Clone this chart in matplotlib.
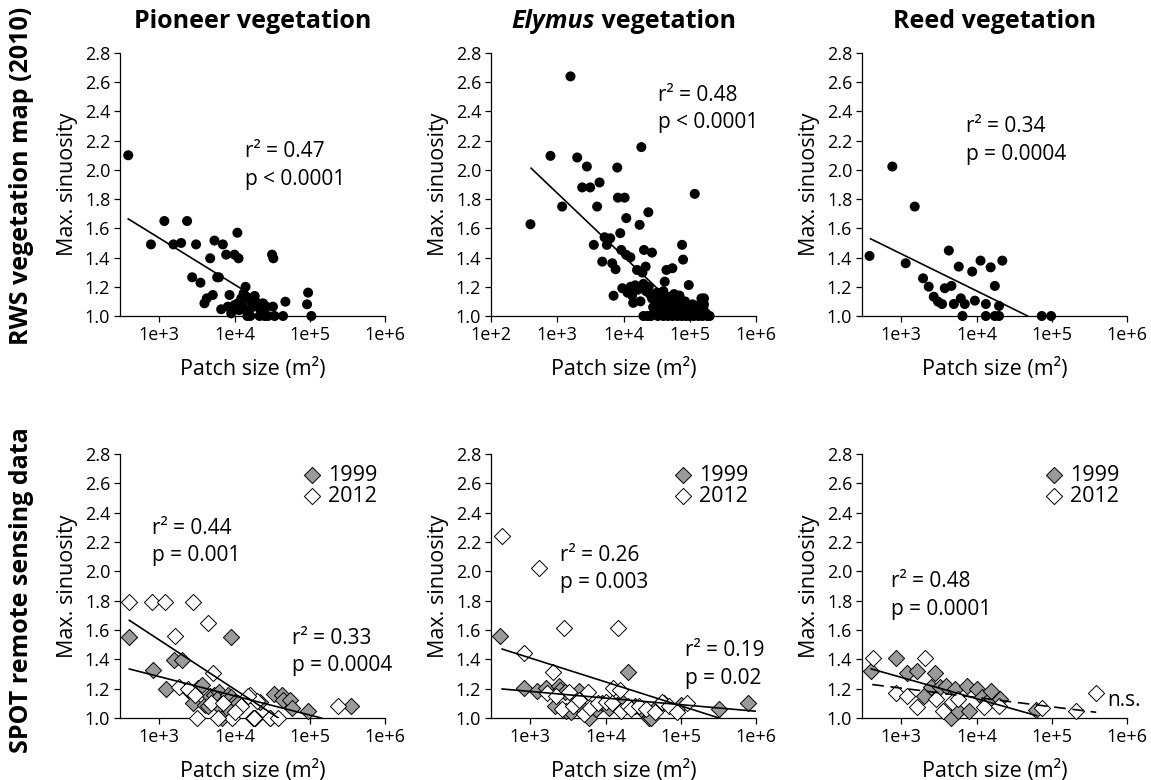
import matplotlib

matplotlib.use("Agg")
import matplotlib.pyplot as plt
import numpy as np
from matplotlib.offsetbox import AnnotationBbox, HPacker, TextArea

plt.rcParams["font.family"] = ["Open Sans", "DejaVu Sans"]

# --- RWS vegetation map (2010) -------------------------------------------
pioneer_rws_x = [386, 774, 1166, 2340, 1540, 1950, 3080, 2730, 3520, 3980,
                 4280, 5140, 4740, 5410, 6990, 7740, 10000, 11300, 10900, 5870,
                 6180, 6640, 8570, 8150, 9030, 10000, 11070, 14000, 13200, 14300,
                 12300, 12900, 16700, 18500, 14800, 16200, 20500, 23900, 21500, 26400,
                 32400, 31500, 32800, 21500, 25100, 27800, 34100, 44100, 47400, 95000,
                 92000, 105000, 17000, 19000, 11500, 13500]
pioneer_rws_y = [2.10, 1.49, 1.65, 1.65, 1.49, 1.50, 1.49, 1.265, 1.228, 1.087,
                 1.121, 1.144, 1.395, 1.516, 1.49, 1.42, 1.42, 1.395, 1.57, 1.265,
                 1.265, 1.046, 1.144, 1.064, 1.018, 1.075, 1.087, 1.20, 1.155, 1.132,
                 1.121, 1.087, 1.11, 1.137, 1.0, 1.0, 1.075, 1.087, 1.052, 1.064,
                 1.064, 1.42, 1.395, 1.0, 1.0, 1.0, 1.0, 1.0, 1.098, 1.16,
                 1.08, 1.0, 1.06, 1.10, 1.04, 1.05]

elymus_rws_x = [394, 790, 1186, 1585, 2000, 2800, 2380, 3140, 4350, 4000,
                3560, 4780, 5180, 6300, 5610, 6760, 7590, 7080, 8050, 8230,
                10400, 8930, 11000, 9270, 11000, 12700, 17500, 18600, 23700, 20400,
                26900, 21600, 16000, 19300, 44500, 54700, 41900, 76600, 79300, 96600,
                119000, 164000, 164000, 200000,
                9600, 11500, 12800, 13500, 15000, 16500, 18000, 14000, 20000, 22000,
                24000, 25000, 27000, 30000, 32000, 35000, 38000, 40000, 45000, 48000,
                52000, 58000, 62000, 70000, 75000, 85000, 90000, 110000, 130000, 150000,
                140000,
                20000, 23000, 26000, 29000, 33000, 36000, 40000, 43000, 47000, 50000,
                55000, 60000, 65000, 70000, 76000, 82000, 88000, 95000, 100000, 108000,
                115000, 125000, 135000, 145000, 155000, 175000, 185000, 28000, 31000, 38000,
                46000, 54000, 66000, 72000, 80000, 120000, 160000]
elymus_rws_y = [1.628, 2.096, 1.749, 2.64, 2.085, 2.023, 1.88, 1.88, 1.914, 1.749,
                1.487, 1.372, 1.539, 1.532, 1.487, 1.361, 1.32, 1.139, 2.016, 1.81,
                1.81, 1.567, 1.67, 1.452, 1.418, 1.402, 1.624, 2.156, 1.71, 1.452,
                1.434, 1.338, 1.315, 1.297, 1.315, 1.327, 1.235, 1.487, 1.386, 1.212,
                1.836, 1.121, 1.08, 1.0,
                1.19, 1.16, 1.20, 1.14, 1.21, 1.18, 1.10, 1.09, 1.22, 1.17,
                1.20, 1.15, 1.12, 1.10, 1.16, 1.14, 1.12, 1.17, 1.08, 1.13,
                1.11, 1.15, 1.09, 1.14, 1.07, 1.10, 1.06, 1.08, 1.07, 1.12,
                1.04,
                1.0, 1.0, 1.0, 1.02, 1.0, 1.03, 1.0, 1.05, 1.0, 1.02,
                1.0, 1.04, 1.0, 1.02, 1.0, 1.05, 1.0, 1.02, 1.0, 1.03,
                1.0, 1.02, 1.0, 1.05, 1.0, 1.02, 1.0, 1.06, 1.04, 1.06,
                1.07, 1.05, 1.07, 1.05, 1.08, 1.05, 1.06]

reed_rws_x = [378, 759, 1142, 1506, 1944, 2312, 2700, 3080, 3480, 3780,
              4640, 4280, 4990, 5800, 6180, 6980, 6500, 8750, 9500, 11300,
              13300, 13300, 15400, 17500, 17500, 19900, 19900, 22000, 73600, 98000]
reed_rws_y = [1.411, 2.023, 1.361, 1.749, 1.258, 1.201, 1.132, 1.098, 1.082, 1.19,
              1.206, 1.448, 1.082, 1.338, 1.121, 1.082, 1.0, 1.304, 1.105, 1.379,
              1.082, 1.0, 1.333, 1.206, 1.0, 1.0, 1.069, 1.379, 1.0, 1.0]

# --- SPOT remote sensing, 1999 (grey) and 2012 (white) --------------------
pioneer_99_x = [399, 832, 1230, 1585, 1985, 2430, 2830, 3240, 3650, 4050,
                4480, 4710, 5330, 6280, 5780, 6530, 6730, 7500, 8100, 8900,
                10000, 11000, 8700, 8950, 17400, 18600, 21800, 29500, 33900, 42300,
                44500, 54600, 57500, 95500, 353000]
pioneer_99_y = [1.55, 1.325, 1.198, 1.398, 1.398, 1.193, 1.102, 1.205, 1.227, 1.09,
                1.084, 1.15, 1.16, 1.175, 1.13, 1.068, 1.0, 1.12, 1.155, 1.14,
                1.11, 1.10, 1.05, 1.55, 1.0, 1.0, 1.107, 1.0, 1.166, 1.159,
                1.125, 1.125, 1.068, 1.045, 1.08]
pioneer_12_x = [399, 807, 1190, 2780, 4470, 1620, 5220, 1845, 2400, 3000,
                3130, 9120, 18400, 29700, 16000, 20100, 4800, 7000, 12000, 15000,
                38000, 235000, 6000, 10000]
pioneer_12_y = [1.79, 1.79, 1.79, 1.79, 1.648, 1.557, 1.307, 1.211, 1.20, 1.16,
                1.0, 1.0, 1.0, 1.0, 1.16, 1.113, 1.10, 1.10, 1.08, 1.15,
                1.0, 1.079, 1.0, 1.04]

elymus_99_x = [401, 817, 1225, 1630, 2370, 2500, 4370, 2900, 2100, 3000,
               3500, 4000, 5000, 6000, 7500, 9000, 11000, 14000, 19600, 17000,
               25000, 30000, 38000, 40000, 50000, 60000, 100000, 327000, 775000]
elymus_99_y = [1.556, 1.204, 1.186, 1.204, 1.215, 1.193, 1.186, 1.175, 1.08, 1.05,
               1.04, 1.10, 1.06, 1.0, 1.06, 1.10, 1.07, 1.09, 1.311, 1.10,
               1.08, 1.06, 1.0, 1.0, 1.08, 1.10, 1.09, 1.064, 1.102]
elymus_12_x = [422, 1290, 2840, 14700, 817, 2030, 1660, 3310, 5900, 12600,
               15500, 2200, 2600, 3700, 4500, 5200, 6300, 8000, 10000, 12000,
               16000, 20000, 22000, 28000, 35000, 45000, 56000, 70000, 90000, 120000]
elymus_12_y = [2.243, 2.023, 1.614, 1.614, 1.443, 1.311, 1.17, 1.18, 1.18, 1.205,
               1.19, 1.15, 1.06, 1.08, 1.12, 1.03, 1.07, 1.10, 1.11, 1.10,
               1.05, 1.08, 1.06, 1.08, 1.06, 1.04, 1.11, 1.08, 1.04, 1.10]

reed_99_x = [398, 840, 1200, 1630, 2000, 2780, 2460, 3240, 3980, 4550,
             5130, 5700, 7520, 7980, 10000, 11900, 13600, 15500, 20500, 61800]
reed_99_y = [1.323, 1.408, 1.305, 1.319, 1.153, 1.305, 1.214, 1.21, 1.216, 1.0,
             1.198, 1.05, 1.216, 1.05, 1.198, 1.14, 1.11, 1.187, 1.13, 1.055]
reed_12_x = [419, 840, 1200, 1630, 2050, 2870, 3600, 4740, 5700, 12500,
             20000, 75200, 211000, 390000]
reed_12_y = [1.408, 1.171, 1.153, 1.077, 1.408, 1.13, 1.05, 1.107, 1.13, 1.077,
             1.084, 1.068, 1.05, 1.171]

# regression lines: y = a + b*log10(x), drawn between log10 limits
# (a, b, log_start, log_end, linestyle)
fits_rws = [
    [(2.487, -0.318, 2.587, 4.09, "-")],
    [(3.137, -0.432, 2.605, 4.506, "-")],
    [(2.184, -0.253, 2.591, 4.68, "-")],
]
fits_spot = [
    [(2.540, -0.336, 2.601, 4.582, "-"), (1.675, -0.131, 2.601, 5.158, "-")],
    [(1.898, -0.163, 2.625, 5.514, "-"), (1.316, -0.045, 2.625, 6.0, "-")],
    [(1.712, -0.145, 2.600, 4.80, "-"), (1.394, -0.0635, 2.613, 5.591, (0, (7, 4)))],
]

# r2 / p annotations (axes fraction x, y of first line)
stats_rws = [
    [(0.472, 0.624, "r\u00b2 = 0.47", "p < 0.0001")],
    [(0.630, 0.840, "r\u00b2 = 0.48", "p < 0.0001")],
    [(0.391, 0.719, "r\u00b2 = 0.34", "p = 0.0004")],
]
stats_spot = [
    [(0.120, 0.719, "r\u00b2 = 0.44", "p = 0.001"), (0.648, 0.302, "r\u00b2 = 0.33", "p = 0.0004")],
    [(0.260, 0.617, "r\u00b2 = 0.26", "p = 0.003"), (0.732, 0.255, "r\u00b2 = 0.19", "p = 0.02")],
    [(0.108, 0.516, "r\u00b2 = 0.48", "p = 0.0001")],
]

W, H = 1151, 780
fig = plt.figure(figsize=(W / 100, H / 100), dpi=100)

col_left = [120, 491, 862]
ax_w = 265
rows = [(53, 316), (454, 718)]


def make_axes(col, row, xmin):
    top, bottom = rows[row]
    ax = fig.add_axes([col_left[col] / W, 1 - bottom / H, ax_w / W, (bottom - top) / H])
    ax.set_xscale("log")
    ax.set_xlim(xmin, 1e6)
    ax.set_ylim(1.0, 2.8)
    ax.set_yticks(np.arange(1.0, 2.81, 0.2))
    ax.set_yticklabels([f"{v:.1f}" for v in np.arange(1.0, 2.81, 0.2)])
    decades = [1e2, 1e3, 1e4, 1e5, 1e6] if xmin <= 100 else [1e3, 1e4, 1e5, 1e6]
    ax.set_xticks(decades)
    ax.set_xticklabels([f"1e+{int(np.log10(d))}" for d in decades])
    ax.minorticks_off()
    for s in ("top", "right"):
        ax.spines[s].set_visible(False)
    for s in ("left", "bottom"):
        ax.spines[s].set_linewidth(0.9)
    ax.tick_params(direction="out", length=4, width=0.9, labelsize=13, pad=3)
    ax.set_ylabel("Max. sinuosity", fontsize=15.5, labelpad=5)
    ax.set_xlabel("Patch size (m\u00b2)", fontsize=15.5, labelpad=10)
    return ax


def draw_fits(ax, fits):
    for a, b, l0, l1, ls in fits:
        lx = np.array([l0, l1])
        ax.plot(10 ** lx, a + b * lx, color="black", lw=1.2, ls=ls, zorder=4)


def draw_stats(ax, stats):
    for fx, fy, r2, p in stats:
        ax.text(fx, fy, r2, transform=ax.transAxes, fontsize=15, va="center", ha="left")
        ax.text(fx, fy - 0.104, p, transform=ax.transAxes, fontsize=15, va="center", ha="left")


rws_sets = [(pioneer_rws_x, pioneer_rws_y), (elymus_rws_x, elymus_rws_y), (reed_rws_x, reed_rws_y)]
spot_sets = [
    (pioneer_99_x, pioneer_99_y, pioneer_12_x, pioneer_12_y),
    (elymus_99_x, elymus_99_y, elymus_12_x, elymus_12_y),
    (reed_99_x, reed_99_y, reed_12_x, reed_12_y),
]

for i, (x, y) in enumerate(rws_sets):
    ax = make_axes(i, 0, 100 if i == 1 else 300)
    ax.scatter(x, y, s=52, color="black", edgecolors="none", clip_on=False, zorder=3)
    draw_fits(ax, fits_rws[i])
    draw_stats(ax, stats_rws[i])

for i, (x99, y99, x12, y12) in enumerate(spot_sets):
    ax = make_axes(i, 1, 300)
    h99 = ax.scatter(x99, y99, s=68, marker="D", facecolor="#9a9a9a", edgecolors="black",
                     linewidths=0.7, clip_on=False, zorder=3, label="1999")
    h12 = ax.scatter(x12, y12, s=68, marker="D", facecolor="white", edgecolors="black",
                     linewidths=0.7, clip_on=False, zorder=3, label="2012")
    draw_fits(ax, fits_spot[i])
    draw_stats(ax, stats_spot[i])
    ax.legend(handles=[h99, h12], loc="upper left", bbox_to_anchor=(0.675, 0.96),
              frameon=False, fontsize=15.5, handletextpad=0.15, labelspacing=0.0,
              borderpad=0, borderaxespad=0, handlelength=1.2)
    if i == 2:
        ax.text(0.99, 0.068, "n.s.", transform=ax.transAxes, fontsize=15,
                ha="center", va="center")

# column titles
titles_y = 1 - 22 / H
fig.text((120 + ax_w / 2) / W, titles_y, "Pioneer vegetation", fontsize=18,
         fontweight="bold", ha="center", va="center")
fig.text((862 + ax_w / 2) / W, titles_y, "Reed vegetation", fontsize=18,
         fontweight="bold", ha="center", va="center")
elymus_title = HPacker(children=[
    TextArea("Elymus", textprops=dict(fontsize=18, fontweight="bold", fontstyle="italic")),
    TextArea(" vegetation", textprops=dict(fontsize=18, fontweight="bold")),
], pad=0, sep=0, align="baseline")
fig.add_artist(AnnotationBbox(elymus_title, ((491 + ax_w / 2) / W, titles_y),
                              xycoords="figure fraction", frameon=False,
                              box_alignment=(0.5, 0.5)))

# row labels
fig.text(22 / W, 1 - 176 / H, "RWS vegetation map (2010)", fontsize=18,
         fontweight="bold", rotation=90, ha="center", va="center")
fig.text(22 / W, 1 - 590 / H, "SPOT remote sensing data", fontsize=18,
         fontweight="bold", rotation=90, ha="center", va="center")

fig.savefig("out.png", dpi=100)
